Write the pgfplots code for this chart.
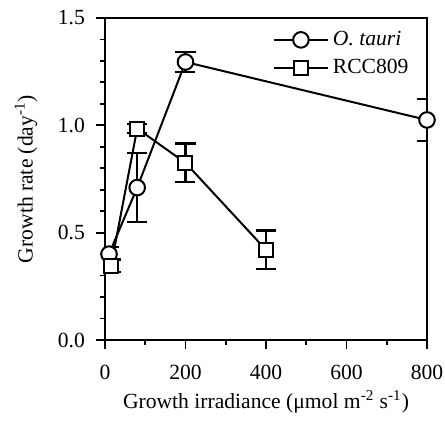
\documentclass[border=0pt]{standalone}
\usepackage{fontspec}
\setmainfont{Liberation Serif}
\usepackage{pgfplots}
\pgfplotsset{compat=1.18}
\begin{document}
\begin{tikzpicture}
\begin{axis}[
    scale only axis,
    width=161pt, height=161pt,
    xmin=0, xmax=800, ymin=0, ymax=1.5,
    xtick={0,200,400,600,800},
    minor xtick={100,300,500,700},
    ytick={0,0.5,1.0,1.5},
    minor ytick={0.1,0.2,0.3,0.4,0.6,0.7,0.8,0.9,1.1,1.2,1.3,1.4},
    tick align=outside,
    xtick pos=bottom, ytick pos=left,
    major tick length=4.5pt, minor tick length=2.5pt,
    every tick/.style={black, line width=0.9pt},
    axis line style={line width=1.1pt},
    /pgf/number format/assume math mode=true,
    yticklabel style={xshift=-2pt, /pgf/number format/.cd, fixed, fixed zerofill, precision=1},
    xticklabel style={yshift=-4.5pt, /pgf/number format/.cd, fixed, 1000 sep={}},
    ticklabel style={font=\fontsize{10.8}{12}\selectfont},
    label style={font=\fontsize{10.8}{12}\selectfont},
    xlabel={Growth irradiance (μmol m\textsuperscript{-2} s\textsuperscript{-1})},
    ylabel={Growth rate (day\textsuperscript{-1})},
    xlabel style={yshift=1.5pt},
    ylabel style={yshift=3.5pt},
    legend style={draw=none, fill=none, at={(rel axis cs:0.975,0.985)}, anchor=north east,
        font=\fontsize{10.8}{12}\selectfont, row sep=1.5pt},
    legend cell align=left,
    legend image code/.code={
        \draw (0pt,0pt) -- (27pt,0pt);
        \draw plot coordinates {(13.5pt,0pt)};},
    error bars/error bar style={draw=black, line width=1.1pt},
    error bars/error mark options={draw=black, rotate=90, mark size=5pt, line width=1.1pt},
]
% error bars first, so the open markers cover them
\addplot[draw=none, mark=none, forget plot,
    error bars/.cd, y dir=both, y explicit]
    coordinates {
    (10,0.40) +- (0,0.035)
    (80,0.71) +- (0,0.16)
    (200,1.295) +- (0,0.045)
    (800,1.025) +- (0,0.097)
    };
\addplot[draw=none, mark=none, forget plot,
    error bars/.cd, y dir=both, y explicit]
    coordinates {
    (15,0.345) +- (0,0.03)
    (80,0.985) +- (0,0.02)
    (200,0.825) +- (0,0.09)
    (400,0.42) +- (0,0.09)
    };
\addplot[black, line width=1pt, mark=*, mark size=3.9pt,
    mark options={fill=white, draw=black, line width=1pt}]
    coordinates {(10,0.40) (80,0.71) (200,1.295) (800,1.025)};
\addlegendentry{\textit{O. tauri}}
\addplot[black, line width=1pt, mark=square*, mark size=3.5pt,
    mark options={fill=white, draw=black, line width=1pt}]
    coordinates {(15,0.345) (80,0.985) (200,0.825) (400,0.42)};
\addlegendentry{RCC809}
\end{axis}
\pgfresetboundingbox
\path[use as bounding box] ([shift={(-52.5pt,-40.5pt)}]current axis.south west)
    rectangle ([shift={(9pt,9pt)}]current axis.north east);
\end{tikzpicture}
\end{document}
